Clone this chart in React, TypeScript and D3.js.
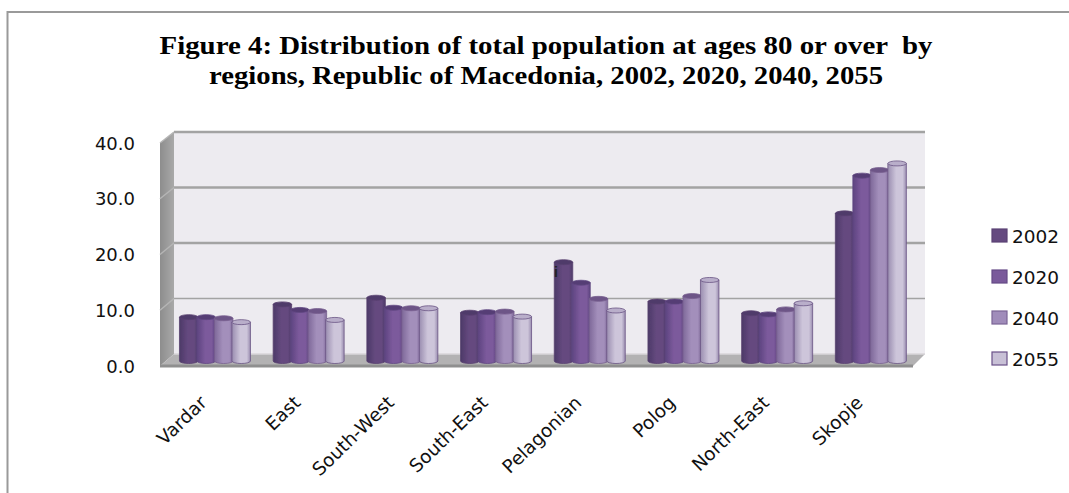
import React from "react";
import * as d3 from "d3";

const categories = ["Vardar", "East", "South-West", "South-East", "Pelagonian", "Polog", "North-East", "Skopje"];
const seriesNames = ["2002", "2020", "2040", "2055"];
const values2002 = [7.9, 10.2, 11.4, 8.7, 17.8, 10.7, 8.6, 26.6];
const values2020 = [7.9, 9.2, 9.6, 8.8, 14.1, 10.7, 8.4, 33.4];
const values2040 = [7.7, 9.0, 9.5, 8.9, 11.2, 11.7, 9.3, 34.4];
const values2055 = [7.0, 7.4, 9.5, 8.0, 9.1, 14.6, 10.4, 35.6];
const seriesValues = [values2002, values2020, values2040, values2055];
const yTicks = [0, 10, 20, 30, 40];
const titleLines = [
  "Figure 4: Distribution of total population at ages 80 or over  by",
  "regions, Republic of Macedonia, 2002, 2020, 2040, 2055",
];
const titleWidths = [773, 674];

const fills = [
  { dark: "#4c3a68", mid: "#65497f", cap: "#4f3a6b", edge: "#58406f" },
  { dark: "#5d4480", mid: "#7c5a9c", cap: "#553d74", edge: "#604682" },
  { dark: "#7e6899", mid: "#a38fbb", cap: "#6d5487", edge: "#77608f" },
  { dark: "#9a8db0", mid: "#cdc5da", cap: "#b9aeca", edge: "#6a5484" },
];
const legendFill = ["#654a80", "#7a5a9b", "#a08cba", "#c8c0d6"];
const legendStroke = ["#5a4274", "#654a86", "#7b6496", "#6a5088"];

const font = "'DejaVu Sans', sans-serif";

export default function App() {
  const xGroup = d3.scaleBand<string>().domain(categories).range([168.1, 917.7]);
  const xBar = d3.scaleBand<string>().domain(seriesNames).range([11.85, 81.85]);
  const yBar = d3.scaleLinear().domain([0, 40]).range([361, 139]);
  const yWall = d3.scaleLinear().domain([0, 40]).range([354, 132]);
  const yFront = d3.scaleLinear().domain([0, 40]).range([366, 143]);
  const yLegend = d3.scalePoint<string>().domain(seriesNames).range([236, 359]);
  const backL = 174, backR = 925, frontL = 160, frontR = 913;
  const w = xBar.bandwidth();

  return (
    <svg width={1069} height={493} style={{ position: "absolute", left: 0, top: 0, background: "#fff" }}>
      <defs>
        {fills.map((f, i) => (
          <linearGradient key={i} id={`bar${i}`} x1="0" x2="1" y1="0" y2="0">
            <stop offset="0" stopColor={f.dark} />
            <stop offset="0.45" stopColor={f.mid} />
            <stop offset="0.8" stopColor={f.mid} />
            <stop offset="1" stopColor={f.dark} />
          </linearGradient>
        ))}
        <linearGradient id="leftWall" x1="0" x2="1" y1="0" y2="0">
          <stop offset="0" stopColor="#8d8d8d" />
          <stop offset="1" stopColor="#a9a9a9" />
        </linearGradient>
        <filter id="soft" x="-5%" y="-5%" width="110%" height="110%">
          <feGaussianBlur stdDeviation="0.45" />
        </filter>
      </defs>

      <path d="M7.5,493V12H1069" fill="none" stroke="#9a9a9a" strokeWidth={2} />

      {titleLines.map((t, i) => (
        <text key={i} x={546} y={54 + i * 30} textAnchor="middle" fontFamily="'Liberation Serif', serif"
          fontWeight={700} fontSize={26} fill="#000" xmlSpace="preserve"
          textLength={titleWidths[i]} lengthAdjust="spacingAndGlyphs">{t}</text>
      ))}

      <rect x={backL} y={yWall(40)} width={backR - backL} height={yWall(0) - yWall(40)} fill="#edebf0" />
      <polygon points={`${frontL},${yFront(40)} ${backL},${yWall(40)} ${backL},${yWall(0)} ${frontL},${yFront(0)}`} fill="url(#leftWall)" />
      <polygon points={`${frontL},${yFront(0)} ${backL},${yWall(0)} ${backR},${yWall(0)} ${frontR},${yFront(0)}`} fill="#b3b2b3" />
      <line x1={frontL} x2={frontR} y1={yFront(0)} y2={yFront(0)} stroke="#8f8f8f" strokeWidth={3} />
      <line x1={backL} x2={backR} y1={yWall(0)} y2={yWall(0)} stroke="#d8d6da" strokeWidth={1.5} />

      {yTicks.filter(t => t > 0).map(t => (
        <g key={t}>
          <line x1={backL} x2={backR} y1={yWall(t)} y2={yWall(t)} stroke="#a3a3a3" strokeWidth={t === 10 ? 1.5 : 2.5} />
          <line x1={frontL} x2={backL} y1={yFront(t)} y2={yWall(t)} stroke="#b5b5b5" strokeWidth={1.5} />
        </g>
      ))}

      {yTicks.map(t => (
        <text key={t} x={135} y={yFront(t)} dominantBaseline="central" textAnchor="end"
          fontFamily={font} fontSize={18} fill="#111">{t.toFixed(1)}</text>
      ))}

      <g filter="url(#soft)">
        {categories.map((c, ci) => (
          <g key={c}>
            {seriesNames.map((s, si) => {
              const x0 = xGroup(c)! + xBar(s)!;
              const v = seriesValues[si][ci];
              const top = yBar(v);
              const base = yBar(0);
              const rx = w / 2 + 0.5;
              const cx = x0 + w / 2;
              const ry = 2.5;
              const d = `M${x0 - 0.5},${top}V${base}A${rx},${ry} 0 0 0 ${x0 + w + 0.5},${base}V${top}Z`;
              return (
                <g key={s}>
                  <path d={d} fill={`url(#bar${si})`} stroke={fills[si].edge} strokeWidth={0.8} />
                  <ellipse cx={cx} cy={top} rx={rx} ry={ry} fill={fills[si].cap} stroke={fills[si].edge} strokeWidth={0.8} />
                </g>
              );
            })}
          </g>
        ))}
      </g>

      <text x={556} y={277} fontFamily="'Liberation Sans', sans-serif" fontSize={14} fontWeight={700} fill="#222" textAnchor="middle">i</text>

      {categories.map(c => {
        const x = xGroup(c)! + xGroup.bandwidth() / 2 - 7;
        return (
          <text key={c} transform={`translate(${x},404) rotate(-44)`} textAnchor="end"
            fontFamily={font} fontSize={18.5} fill="#111">{c}</text>
        );
      })}

      {seriesNames.map((s, i) => (
        <g key={s}>
          <rect x={992} y={yLegend(s)! - 7} width={15} height={13} fill={legendFill[i]} stroke={legendStroke[i]} strokeWidth={1.2} />
          <text x={1012} y={yLegend(s)!} dominantBaseline="central" fontFamily={font} fontSize={18.5} fill="#111">{s}</text>
        </g>
      ))}
    </svg>
  );
}
